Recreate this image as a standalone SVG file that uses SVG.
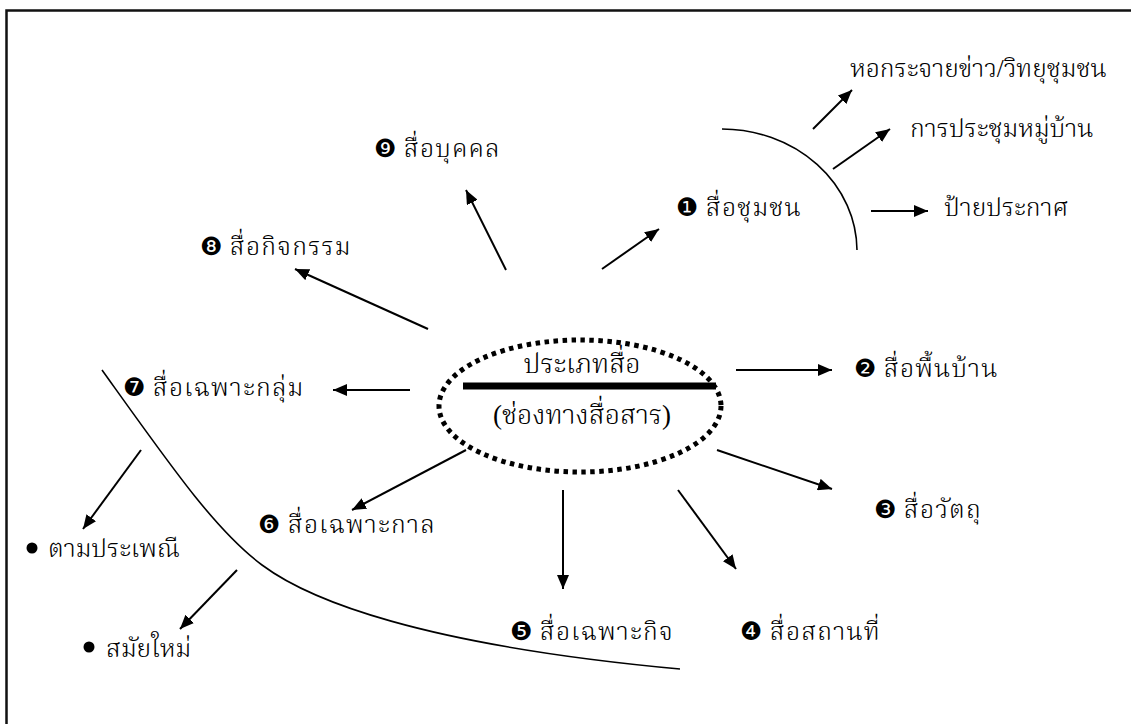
<svg xmlns="http://www.w3.org/2000/svg" width="1131" height="724" viewBox="0 0 1131 724">
  <defs>
    <marker id="arrow" markerUnits="userSpaceOnUse" viewBox="0 0 14 12" markerWidth="14" markerHeight="12" refX="14" refY="6" orient="auto">
      <path d="M0,0 L14,6 L0,12 z" fill="#000"/>
    </marker>
  </defs>
  <style>
    text { font-family: "Liberation Serif", "Noto Serif Thai", "Noto Sans Thai", "Noto Sans", "DejaVu Sans", serif; font-size: 25px; font-weight: 300; fill: #000; }
    .lbl { letter-spacing: 1.2px; }
    .num { font-family: "DejaVu Sans", "Noto Sans", sans-serif; font-size: 25px; font-weight: normal; letter-spacing: 0; }
    .title { font-size: 27px; }
    .bullet { fill: #000; }
    .arr { stroke: #000; stroke-width: 2; fill: none; marker-end: url(#arrow); }
    .curve { stroke: #000; stroke-width: 1.6; fill: none; }
  </style>

  <rect width="1131" height="724" fill="#fff"/>

  <!-- page frame (open on the right and bottom) -->
  <path d="M6.5,724 L6.5,10.5 L1131,10.5" stroke="#111" stroke-width="2.5" fill="none"/>

  <!-- central node -->
  <g id="center">
    <ellipse cx="580" cy="406" rx="141" ry="66" fill="none" stroke="#000" stroke-width="5" stroke-dasharray="4.5 4.5"/>
    <line x1="463" y1="386" x2="716" y2="386" stroke="#000" stroke-width="7"/>
    <text class="title" x="582" y="373" text-anchor="middle">ประเภทสื่อ</text>
    <text class="title" x="582" y="424" text-anchor="middle">(ช่องทางสื่อสาร)</text>
  </g>

  <g id="n1"><text class="lbl" x="676" y="216"><tspan class="num">❶</tspan> สื่อชุมชน</text></g>
  <g id="n1a"><text x="850" y="77">หอกระจายข่าว/วิทยุชุมชน</text></g>
  <g id="n1b"><text x="910" y="137">การประชุมหมู่บ้าน</text></g>
  <g id="n1c"><text x="944" y="216">ป้ายประกาศ</text></g>
  <g id="n2"><text class="lbl" x="854" y="377"><tspan class="num">❷</tspan> สื่อพื้นบ้าน</text></g>
  <g id="n3"><text class="lbl" x="874" y="518"><tspan class="num">❸</tspan> สื่อวัตถุ</text></g>
  <g id="n4"><text class="lbl" x="740" y="640"><tspan class="num">❹</tspan> สื่อสถานที่</text></g>
  <g id="n5"><text class="lbl" x="510" y="640"><tspan class="num">❺</tspan> สื่อเฉพาะกิจ</text></g>
  <g id="n6"><text class="lbl" x="258" y="533"><tspan class="num">❻</tspan> สื่อเฉพาะกาล</text></g>
  <g id="n7"><text class="lbl" x="123" y="396"><tspan class="num">❼</tspan> สื่อเฉพาะกลุ่ม</text></g>
  <g id="n7a"><circle class="bullet" cx="32" cy="548" r="5.5"/><text x="48" y="557">ตามประเพณี</text></g>
  <g id="n7b"><circle class="bullet" cx="89" cy="647" r="5.5"/><text x="106" y="657">สมัยใหม่</text></g>
  <g id="n8"><text class="lbl" x="200" y="255"><tspan class="num">❽</tspan> สื่อกิจกรรม</text></g>
  <g id="n9"><text class="lbl" x="374" y="157"><tspan class="num">❾</tspan> สื่อบุคคล</text></g>

  <g id="connectors">
    <!-- dividing curves -->
    <path class="curve" d="M722,129 A135,122 0 0 1 857,250"/>
    <path class="curve" d="M102,370 C170,465 215,530 262,565 C309,600 420,645 680,669"/>
    <!-- arrows -->
    <line class="arr" x1="602" y1="269" x2="659" y2="229"/>
    <line class="arr" x1="813" y1="129" x2="852" y2="90"/>
    <line class="arr" x1="833" y1="169" x2="890" y2="129"/>
    <line class="arr" x1="871" y1="211" x2="928" y2="211"/>
    <line class="arr" x1="736" y1="370" x2="832" y2="370"/>
    <line class="arr" x1="717" y1="450" x2="832" y2="489"/>
    <line class="arr" x1="678" y1="490" x2="736" y2="569"/>
    <line class="arr" x1="563" y1="490" x2="563" y2="589"/>
    <line class="arr" x1="466" y1="450" x2="352" y2="510"/>
    <line class="arr" x1="410" y1="390" x2="333" y2="390"/>
    <line class="arr" x1="141" y1="450" x2="83" y2="529"/>
    <line class="arr" x1="237" y1="570" x2="180" y2="629"/>
    <line class="arr" x1="428" y1="329" x2="295" y2="269"/>
    <line class="arr" x1="506" y1="270" x2="466" y2="190"/>
  </g>
</svg>
